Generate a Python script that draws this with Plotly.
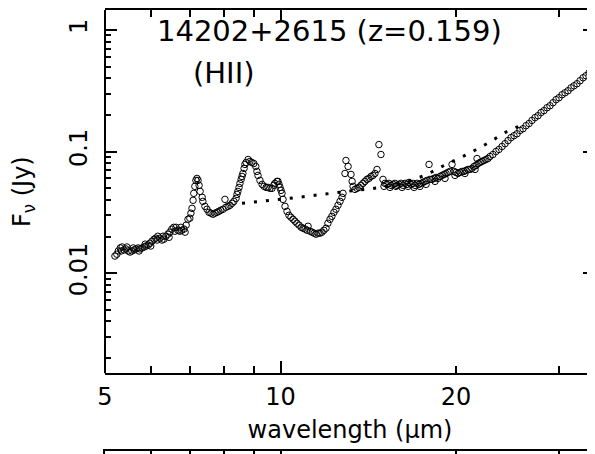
import plotly.graph_objects as go
import math

# ---- data ----
wavelength = [
    5.20, 5.24, 5.27, 5.31, 5.33, 5.35, 5.39, 5.43, 5.45, 5.48, 5.52, 5.56, 5.59, 5.61, 5.65, 5.70, 5.72, 5.74,
    5.79, 5.84, 5.86, 5.88, 5.93, 5.97, 5.99, 6.02, 6.07, 6.11, 6.14, 6.16, 6.21, 6.26, 6.29, 6.31,
    6.36, 6.41, 6.44, 6.46, 6.51, 6.56, 6.59, 6.62, 6.67, 6.72, 6.75, 6.77, 6.83, 6.86, 6.89, 6.94,
    6.99, 7.02, 7.05, 7.08, 7.10, 7.13, 7.16, 7.19, 7.22, 7.25, 7.28, 7.34, 7.36, 7.42, 7.48, 7.54,
    7.60, 7.66, 7.72, 7.78, 7.84, 7.90, 7.97, 8.03, 8.06, 8.13, 8.19, 8.26, 8.32, 8.39, 8.42, 8.45,
    8.49, 8.52, 8.56, 8.59, 8.62, 8.66, 8.69, 8.73, 8.80, 8.86, 8.93, 9.00, 9.07, 9.11, 9.15, 9.22,
    9.30, 9.37, 9.45, 9.52, 9.59, 9.67, 9.74, 9.78, 9.86, 9.90, 9.94, 9.98, 10.02, 10.06, 10.10, 10.18,
    10.26, 10.34, 10.42, 10.51, 10.59, 10.67, 10.76, 10.85, 10.93, 11.02, 11.11, 11.15, 11.24, 11.33,
    11.42, 11.51, 11.60, 11.69, 11.78, 11.87, 11.97, 12.06, 12.16, 12.25, 12.35, 12.45, 12.55, 12.65,
    12.75, 12.80, 12.90, 12.95, 13.06, 13.21, 13.27, 13.32, 13.42, 13.53, 13.64, 13.74, 13.85, 13.96,
    14.07, 14.18, 14.30, 14.41, 14.52, 14.64, 14.75, 14.87, 14.99, 15.05, 15.11, 15.23, 15.35, 15.41,
    15.47, 15.60, 15.72, 15.78, 15.84, 15.97, 16.10, 16.16, 16.22, 16.35, 16.48, 16.55, 16.61, 16.75,
    16.88, 16.95, 17.01, 17.15, 17.28, 17.35, 17.42, 17.56, 17.70, 17.77, 17.84, 17.98, 18.05, 18.19,
    18.34, 18.41, 18.48, 18.63, 18.78, 18.93, 19.08, 19.15, 19.23, 19.38, 19.53, 19.69, 19.84, 19.92,
    20.00, 20.16, 20.32, 20.48, 20.64, 20.72, 20.80, 20.97, 21.14, 21.31, 21.47, 21.56, 21.65, 21.73,
    21.82, 21.99, 22.16, 22.34, 22.52, 22.69, 22.87, 23.14, 23.42, 23.70, 23.99, 24.27, 24.56, 24.85,
    25.15, 25.45, 25.75, 26.06, 26.37, 26.69, 27.00, 27.32, 27.65, 27.98, 28.31, 28.65, 28.99, 29.34,
    29.69, 30.04, 30.40, 30.76, 31.13, 31.50, 31.87, 32.25, 32.64, 33.03, 33.42, 33.82, 34.22, 34.63,
]
flux = [
    0.0138, 0.0143, 0.0152, 0.0161, 0.0152, 0.0164, 0.0155, 0.0158, 0.0164, 0.0152, 0.0149, 0.0152, 0.0161, 0.0155, 0.0158, 0.0161, 0.0152, 0.0158,
    0.0161, 0.0164, 0.0173, 0.0167, 0.0170, 0.0176, 0.0167, 0.0183, 0.0190, 0.0194, 0.0187, 0.0201, 0.0194, 0.0187, 0.0201, 0.0190,
    0.0201, 0.0209, 0.0197, 0.0217, 0.0230, 0.0238, 0.0221, 0.0238, 0.0225, 0.0221, 0.0238, 0.0225, 0.0230, 0.0217, 0.0248, 0.0277,
    0.0283, 0.0311, 0.0341, 0.0397, 0.0453, 0.0517, 0.0579, 0.0601, 0.0579, 0.0527, 0.0470, 0.0420, 0.0389, 0.0354, 0.0335, 0.0316,
    0.0311, 0.0305, 0.0311, 0.0316, 0.0322, 0.0329, 0.0335, 0.0404, 0.0348, 0.0354, 0.0361, 0.0375, 0.0389, 0.0412, 0.0444, 0.0470,
    0.0507, 0.0547, 0.0590, 0.0624, 0.0660, 0.0726, 0.0783, 0.0813, 0.0860, 0.0828, 0.0813, 0.0797, 0.0754, 0.0686, 0.0636, 0.0579,
    0.0537, 0.0517, 0.0507, 0.0507, 0.0498, 0.0498, 0.0527, 0.0547, 0.0568, 0.0568, 0.0537, 0.0507, 0.0479, 0.0453, 0.0404, 0.0354,
    0.0322, 0.0299, 0.0288, 0.0277, 0.0267, 0.0257, 0.0248, 0.0238, 0.0234, 0.0230, 0.0225, 0.0243, 0.0221, 0.0217,
    0.0213, 0.0209, 0.0213, 0.0213, 0.0217, 0.0225, 0.0234, 0.0257, 0.0277, 0.0293, 0.0316, 0.0335, 0.0361, 0.0389,
    0.0420, 0.0453, 0.0660, 0.0844, 0.0754, 0.0648, 0.0568, 0.0517, 0.0488, 0.0498, 0.0507, 0.0527, 0.0547, 0.0568,
    0.0590, 0.0601, 0.0624, 0.0636, 0.0660, 0.0712, 0.114, 0.0945, 0.0590, 0.0517, 0.0547, 0.0537, 0.0547, 0.0507,
    0.0527, 0.0537, 0.0547, 0.0517, 0.0527, 0.0537, 0.0547, 0.0507, 0.0527, 0.0547, 0.0537, 0.0517, 0.0557, 0.0537,
    0.0547, 0.0507, 0.0527, 0.0547, 0.0537, 0.0517, 0.0547, 0.0557, 0.0568, 0.0537, 0.0579, 0.0783, 0.0590, 0.0590,
    0.0601, 0.0568, 0.0612, 0.0601, 0.0624, 0.0636, 0.0648, 0.0601, 0.0660, 0.0673, 0.0686, 0.0783, 0.0686, 0.0636,
    0.0673, 0.0660, 0.0673, 0.0686, 0.0686, 0.0660, 0.0699, 0.0712, 0.0712, 0.0726, 0.0754, 0.0712, 0.0768, 0.0876,
    0.0797, 0.0813, 0.0828, 0.0844, 0.0860, 0.0876, 0.0910, 0.0945, 0.100, 0.104, 0.110, 0.116, 0.123, 0.130,
    0.135, 0.140, 0.149, 0.154, 0.163, 0.170, 0.180, 0.190, 0.197, 0.209, 0.217, 0.229, 0.238, 0.252,
    0.267, 0.277, 0.293, 0.304, 0.316, 0.334, 0.347, 0.361, 0.382, 0.404, 0.420, 0.444, 0.461, 0.488,
]
cont_wavelength = [8.59, 10.38, 13.00, 14.93, 16.35, 17.70, 19.23, 20.89, 22.60, 24.46, 26.27]
cont_flux = [0.0375, 0.0412, 0.0470, 0.0507, 0.0557, 0.0636, 0.0783, 0.0945, 0.116, 0.146, 0.170]

x_ticks = [5, 10, 20]
x_ticktext = ["5", "10", "20"]
x_minor = [6, 7, 8, 9, 30]
y_ticks = [0.01, 0.1, 1]
y_ticktext = ["0.01", "0.1", "1"]
y_minor = [m * d for d in (0.001, 0.01, 0.1) for m in range(2, 10)]

title_line1 = "14202+2615 (z=0.159)"
title_line2 = "(HII)"

FONT = "DejaVu Sans"
# the page body adds an 8px offset; figure is sized to fill the rest of the window
FIG_W, FIG_H = 587, 446
PLOT_L = 97
MAIN_BOTTOM = 365          # px from figure top
X_RANGE = [math.log10(5), math.log10(34.63)]
Y_RANGE = [-2.8246, 0.1639]


def px(xp):   # page x -> paper x
    return (xp - 8 - PLOT_L) / (FIG_W - PLOT_L)


def py(yp):   # page y -> paper y
    return (FIG_H - (yp - 8)) / FIG_H


fig = go.Figure()
fig.add_trace(go.Scatter(
    x=cont_wavelength, y=cont_flux, mode="lines",
    line=dict(color="black", width=3, dash="3px,9px"),
    hoverinfo="skip", showlegend=False))
fig.add_trace(go.Scatter(
    x=wavelength, y=flux, mode="markers",
    marker=dict(symbol="circle-open", size=6.5, color="black", line=dict(width=1, color="black")),
    showlegend=False))
fig.add_trace(go.Scatter(x=[None], y=[None], xaxis="x2", yaxis="y", mode="markers", showlegend=False))
fig.add_trace(go.Scatter(x=[None], y=[None], xaxis="x3", yaxis="y3", mode="markers", showlegend=False))

axis_common = dict(showgrid=False, zeroline=False, color="black")

fig.update_layout(
    width=FIG_W, height=FIG_H,
    margin=dict(l=PLOT_L, r=0, t=0, b=0),
    paper_bgcolor="white", plot_bgcolor="white",
    font=dict(family=FONT, size=24, color="black"),
    xaxis=dict(
        **axis_common, type="log", range=X_RANGE, domain=[0, 1], anchor="y",
        tickmode="array", tickvals=x_ticks, ticktext=x_ticktext,
        ticks="inside", ticklen=7, tickwidth=1.5, tickcolor="black",
        minor=dict(tickmode="array", tickvals=x_minor, ticks="inside", ticklen=7, tickwidth=1.5, tickcolor="black"),
        showline=True, linewidth=2, linecolor="black", mirror="ticks",
        tickfont=dict(size=24, family=FONT), ticklabelstandoff=1,
        title=dict(text="wavelength (μm)", font=dict(size=24, family=FONT), standoff=11),
    ),
    xaxis2=dict(
        **axis_common, type="log", range=X_RANGE, overlaying="x", anchor="y", side="bottom",
        tickmode="array", tickvals=[10], ticks="inside", ticklen=12, tickwidth=1.5, tickcolor="black",
        showticklabels=False, showline=False, mirror="ticks",
    ),
    yaxis=dict(
        **axis_common, type="log", range=Y_RANGE, domain=[(FIG_H - MAIN_BOTTOM) / FIG_H, 1], anchor="x",
        tickmode="array", tickvals=y_ticks, ticktext=y_ticktext, tickangle=-90,
        ticks="inside", ticklen=12, tickwidth=1.5, tickcolor="black",
        minor=dict(tickmode="array", tickvals=y_minor, ticks="inside", ticklen=6, tickwidth=1.5, tickcolor="black"),
        showline=False, mirror="ticks",
        tickfont=dict(size=24, family=FONT), ticklabelstandoff=12,
        title=dict(text="F<sub>ν</sub> (Jy)", font=dict(size=24, family=FONT), standoff=37),
    ),
    xaxis3=dict(
        **axis_common, type="log", range=X_RANGE, domain=[0, 1], anchor="y3", side="top",
        tickmode="array", tickvals=[10], ticks="inside", ticklen=12, tickwidth=1.5, tickcolor="black",
        minor=dict(tickmode="array", tickvals=[6, 7, 8, 9, 20, 30], ticks="inside", ticklen=7, tickwidth=1.5, tickcolor="black"),
        showticklabels=False, showline=True, linewidth=2, linecolor="black",
    ),
    yaxis3=dict(
        **axis_common, range=[0, 1], domain=[0, 3 / FIG_H], anchor="x3",
        showticklabels=False, ticks="", showline=True, linewidth=2, linecolor="black",
    ),
    shapes=[dict(type="line", xref="paper", yref="y domain", x0=0, x1=0, y0=0, y1=1,
                 line=dict(color="black", width=2))],
    annotations=[
        dict(text=title_line1, xref="paper", yref="paper", x=px(329), y=py(29),
             xanchor="center", yanchor="middle", showarrow=False, font=dict(size=29, family=FONT)),
        dict(text=title_line2, xref="paper", yref="paper", x=px(224), y=py(71),
             xanchor="center", yanchor="middle", showarrow=False, font=dict(size=29, family=FONT)),
    ],
)

fig.write_html("out.html")
